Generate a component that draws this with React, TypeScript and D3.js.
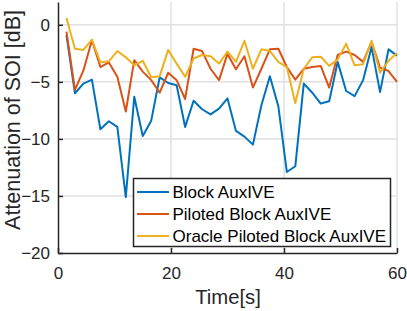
import { useEffect, useRef } from "react";
import * as d3 from "d3";

// time stamps of the blocks (s)
const times = [
  1.5, 3, 4.5, 6, 7.5, 9, 10.5, 12, 13.5, 15, 16.5, 18, 19.5, 21, 22.5, 24, 25.5, 27, 28.5, 30,
  31.5, 33, 34.5, 36, 37.5, 39, 40.5, 42, 43.5, 45, 46.5, 48, 49.5, 51, 52.5, 54, 55.5, 57, 58.5, 60,
];

const blockAux = [
  -0.9, -6.0, -5.15, -4.8, -9.15, -8.45, -8.95, -15.1, -6.3, -9.75, -8.4, -4.6, -5.1, -5.3, -8.95,
  -6.65, -7.4, -7.85, -7.35, -6.45, -9.3, -9.8, -10.5, -7.05, -4.5, -7.15, -12.9, -12.4, -5.15,
  -5.95, -6.9, -6.7, -3.25, -5.8, -6.25, -4.85, -1.95, -5.9, -2.15, -2.7,
];

const pilotedAux = [
  -0.6, -5.7, -4.0, -1.35, -3.7, -3.3, -4.55, -7.6, -3.1, -4.1, -4.85, -5.95, -4.2, -4.85, -6.5,
  -2.1, -2.3, -3.85, -4.85, -2.55, -3.9, -2.75, -5.5, -3.85, -2.15, -2.1, -3.7, -4.8, -3.85, -3.7,
  -3.6, -5.5, -2.65, -2.35, -2.65, -3.25, -1.5, -3.75, -4.05, -5.0,
];

const oracleAux = [
  0.6, -2.1, -2.2, -1.3, -3.3, -3.2, -2.3, -2.85, -3.55, -3.15, -4.6, -4.5, -2.2, -3.4, -4.55,
  -2.95, -2.65, -2.75, -3.4, -2.35, -3.25, -1.4, -3.85, -2.15, -2.3, -3.25, -3.7, -6.85, -3.85,
  -2.85, -2.8, -3.6, -3.05, -1.65, -3.55, -3.45, -1.4, -4.2, -3.15, -2.5,
];

const seriesNames = ["Block AuxIVE", "Piloted Block AuxIVE", "Oracle Piloted Block AuxIVE"];
const seriesColors = ["#0072BD", "#D95319", "#EDB120"];
const xTicks = [0, 20, 40, 60];
const yTicks = [0, -5, -10, -15, -20];

const W = 407;
const H = 311;
const FONT = "'Liberation Sans', Arial, Helvetica, sans-serif";
const INK = "#262626";

const Chart = () => {
  const svgRef = useRef<SVGSVGElement | null>(null);

  useEffect(() => {
    const svg = d3.select(svgRef.current);
    svg.selectAll("*").remove();

    const x = d3.scaleLinear().domain([0, 60]).range([58, 397]);
    const y = d3.scaleLinear().domain([-20, 2]).range([253, 2]);

    svg.append("rect").attr("width", W).attr("height", H).attr("fill", "#fff");

    // grid
    const grid = svg.append("g").attr("stroke", "#e0e0e0").attr("stroke-width", 1.5);
    grid
      .selectAll(".gx")
      .data(xTicks.filter((d) => d > 0))
      .enter()
      .append("line")
      .attr("x1", (d) => x(d))
      .attr("x2", (d) => x(d))
      .attr("y1", y(2))
      .attr("y2", y(-20));
    grid
      .selectAll(".gy")
      .data(yTicks.filter((d) => d > -20))
      .enter()
      .append("line")
      .attr("x1", x(0))
      .attr("x2", x(60))
      .attr("y1", (d) => y(d))
      .attr("y2", (d) => y(d));

    // series
    const all = [blockAux, pilotedAux, oracleAux];
    const line = d3
      .line<number>()
      .x((_, i) => x(times[i]))
      .y((d) => y(d));
    all.forEach((vals, i) => {
      svg
        .append("path")
        .datum(vals)
        .attr("d", line)
        .attr("fill", "none")
        .attr("stroke", seriesColors[i])
        .attr("stroke-width", 2)
        .attr("stroke-linejoin", "round");
    });

    // axes
    const yAxis = d3
      .axisLeft(y)
      .tickValues(yTicks)
      .tickSizeInner(-5)
      .tickSizeOuter(0)
      .tickPadding(8);
    const gy = svg.append("g").attr("transform", `translate(${x(0)},0)`).call(yAxis);

    const xAxis = d3
      .axisBottom(x)
      .tickValues(xTicks)
      .tickSizeInner(-5)
      .tickSizeOuter(0)
      .tickPadding(14);
    const gx = svg.append("g").attr("transform", `translate(0,${y(-20)})`).call(xAxis);

    [gx, gy].forEach((g) => {
      g.attr("font-family", FONT).attr("font-size", 17);
      g.select(".domain").attr("stroke", INK).attr("stroke-width", 1.5);
      g.selectAll(".tick line").attr("stroke", INK).attr("stroke-width", 1.5);
      g.selectAll(".tick text").attr("fill", INK);
    });

    // labels
    svg
      .append("text")
      .attr("x", 228)
      .attr("y", 304)
      .attr("text-anchor", "middle")
      .attr("font-family", FONT)
      .attr("font-size", 20.3)
      .attr("fill", INK)
      .text("Time[s]");

    svg
      .append("text")
      .attr("transform", "translate(20,120) rotate(-90)")
      .attr("text-anchor", "middle")
      .attr("font-family", FONT)
      .attr("font-size", 21.5)
      .attr("fill", INK)
      .text("Attenuation of SOI [dB]");

    // legend
    const lg = svg.append("g");
    lg.append("rect")
      .attr("x", 133.5)
      .attr("y", 178.5)
      .attr("width", 257)
      .attr("height", 68)
      .attr("fill", "#fff")
      .attr("stroke", INK)
      .attr("stroke-width", 1.5);
    seriesNames.forEach((name, i) => {
      const cy = 192 + i * 22;
      lg.append("line")
        .attr("x1", 137)
        .attr("x2", 169)
        .attr("y1", cy)
        .attr("y2", cy)
        .attr("stroke", seriesColors[i])
        .attr("stroke-width", 2);
      lg.append("text")
        .attr("x", 172.5)
        .attr("y", cy)
        .attr("dy", "0.35em")
        .attr("font-family", FONT)
        .attr("font-size", 17)
        .attr("fill", "#000")
        .text(name);
    });
  }, []);

  return (
    <svg
      ref={svgRef}
      width={W}
      height={H}
      style={{ position: "absolute", left: 0, top: 0, display: "block" }}
    />
  );
};

export default function App() {
  return <Chart />;
}
